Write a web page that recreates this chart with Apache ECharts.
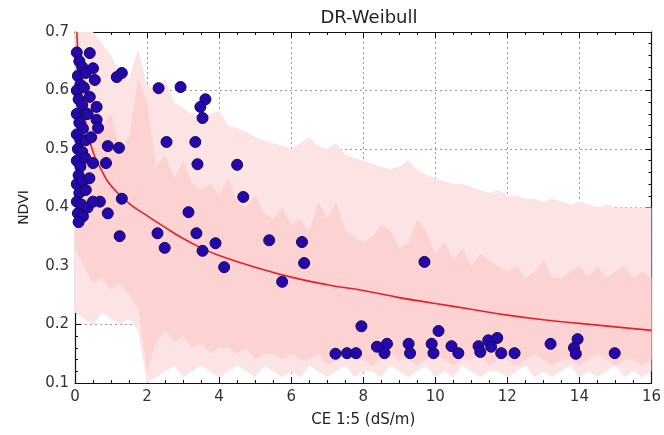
<!DOCTYPE html>
<html>
<head>
<meta charset="utf-8">
<script src="https://cdn.jsdelivr.net/npm/echarts@6/dist/echarts.min.js"></script>
<style>
  html, body { margin: 0; padding: 0; background: #fff; }
  #chart { width: 664px; height: 435px; }
</style>
</head>
<body>
<div id="chart"></div>
<script>
// Observations: salinity (CE 1:5, dS/m) vs NDVI
const obsCE = [
  0.05,0.12,0.20,0.08,0.30,0.15,0.05,0.25,0.10,0.20,0.05,0.30,0.12,0.22,0.05,0.15,0.30,0.08,0.20,0.05,
  0.15,0.28,0.10,0.05,0.20,0.12,0.30,0.05,0.18,0.08,0.22,0.35,0.10,
  0.41,0.50,0.55,0.41,0.60,0.60,0.64,0.45,0.50,0.86,0.91,1.22,1.16,1.30,0.69,0.50,1.30,0.91,1.24,0.40,0.35,
  2.32,2.93,3.62,3.48,3.54,2.54,3.34,3.40,4.50,4.67,3.15,2.29,3.37,2.49,3.54,3.90,4.14,5.39,5.75,6.30,6.36,9.70,
  7.95,10.09,7.23,7.55,7.80,8.38,8.66,8.59,9.26,9.30,9.90,9.95,10.45,10.64,11.20,11.25,11.47,11.72,11.55,11.83,
  12.20,13.20,13.95,13.85,13.90,14.98
];
const obsNDVI = [
  0.665,0.650,0.640,0.625,0.630,0.610,0.600,0.605,0.585,0.575,0.560,0.560,0.545,0.535,0.525,0.515,0.515,0.500,0.495,0.480,
  0.470,0.485,0.455,0.440,0.445,0.425,0.430,0.410,0.405,0.390,0.385,0.400,0.375,
  0.664,0.638,0.618,0.589,0.572,0.550,0.536,0.520,0.476,0.476,0.505,0.502,0.623,0.630,0.410,0.410,0.415,0.390,0.351,0.450,0.560,
  0.604,0.606,0.585,0.572,0.553,0.512,0.512,0.474,0.473,0.418,0.392,0.356,0.356,0.331,0.326,0.339,0.298,0.344,0.273,0.341,0.305,0.307,
  0.197,0.189,0.150,0.151,0.151,0.162,0.167,0.151,0.167,0.151,0.167,0.151,0.163,0.151,0.163,0.153,0.173,0.177,0.162,0.151,
  0.151,0.167,0.175,0.160,0.150,0.151
];

// Fitted dose-response (Weibull) curve
const fitCE   = [0.05,0.1,0.2,0.3,0.5,0.75,1.0,1.5,2.0,2.5,3.0,3.5,4.0,5.0,6.0,7.0,8.0,9.0,10.0,11.0,12.0,13.0,14.0,15.0,16.0];
const fitNDVI = [0.700,0.650,0.585,0.545,0.495,0.462,0.437,0.407,0.386,0.366,0.347,0.331,0.318,0.298,0.281,0.268,0.258,0.246,0.236,0.226,0.216,0.208,0.202,0.196,0.190];

// Prediction bands on a common CE grid
const bandCE = [
  0,0.25,0.5,0.75,1,1.25,1.5,1.75,2,2.25,2.5,2.75,3,3.25,3.5,3.75,4,4.25,4.5,4.75,5,5.25,5.5,5.75,
  6,6.25,6.5,6.75,7,7.25,7.5,7.75,8,8.25,8.5,8.75,9,9.25,9.5,9.75,10,10.25,10.5,10.75,11,11.25,11.5,11.75,
  12,12.25,12.5,12.75,13,13.25,13.5,13.75,14,14.25,14.5,14.75,15,15.25,15.5,15.75,16
];
const outerHi = [
  0.70,0.70,0.70,0.68,0.66,0.63,0.62,0.67,0.61,0.60,0.62,0.58,0.57,0.56,0.555,0.56,0.565,0.54,0.535,0.53,0.52,0.515,0.51,0.505,
  0.50,0.51,0.52,0.505,0.50,0.51,0.49,0.485,0.48,0.475,0.47,0.465,0.47,0.48,0.465,0.455,0.45,0.445,0.44,0.44,0.435,0.43,0.425,0.43,
  0.42,0.42,0.415,0.415,0.41,0.415,0.41,0.405,0.41,0.405,0.40,0.405,0.40,0.40,0.40,0.40,0.40
];
const outerLo = [
  0.22,0.21,0.20,0.22,0.21,0.20,0.21,0.19,0.10,0.11,0.12,0.13,0.11,0.12,0.13,0.12,0.11,0.12,0.13,0.12,0.11,0.13,0.12,0.11,
  0.12,0.11,0.13,0.12,0.11,0.12,0.13,0.11,0.12,0.12,0.11,0.13,0.12,0.11,0.12,0.13,0.11,0.12,0.11,0.13,0.12,0.11,0.12,0.12,
  0.11,0.12,0.13,0.11,0.12,0.11,0.12,0.13,0.11,0.12,0.11,0.12,0.13,0.11,0.12,0.11,0.12
];
const innerHi = [
  0.70,0.64,0.58,0.54,0.56,0.50,0.52,0.62,0.58,0.47,0.49,0.45,0.48,0.44,0.43,0.44,0.42,0.45,0.41,0.40,0.42,0.39,0.38,0.40,
  0.37,0.38,0.36,0.41,0.38,0.41,0.36,0.35,0.34,0.35,0.37,0.36,0.33,0.34,0.38,0.36,0.32,0.34,0.31,0.33,0.30,0.32,0.31,0.30,
  0.29,0.30,0.28,0.29,0.31,0.28,0.28,0.29,0.30,0.28,0.30,0.28,0.29,0.30,0.28,0.29,0.28
];
const innerLo = [
  0.33,0.30,0.27,0.28,0.26,0.27,0.25,0.23,0.12,0.17,0.19,0.17,0.18,0.16,0.17,0.15,0.16,0.16,0.15,0.16,0.14,0.15,0.15,0.14,
  0.15,0.14,0.14,0.15,0.13,0.14,0.15,0.14,0.14,0.13,0.14,0.15,0.14,0.14,0.13,0.14,0.15,0.14,0.13,0.14,0.14,0.15,0.13,0.14,
  0.14,0.13,0.14,0.15,0.14,0.13,0.14,0.14,0.13,0.14,0.15,0.14,0.13,0.14,0.14,0.13,0.14
];

// Tick values
const xTicks = [0, 2, 4, 6, 8, 10, 12, 14, 16];
const yTicks = [0.1, 0.2, 0.3, 0.4, 0.5, 0.6, 0.7];

const FONT = 'DejaVu Sans';

function bandSeries(name, hi, lo, color) {
  const pts = [];
  for (let i = 0; i < bandCE.length; i++) pts.push([bandCE[i], hi[i]]);
  for (let i = bandCE.length - 1; i >= 0; i--) pts.push([bandCE[i], lo[i]]);
  return {
    name: name,
    type: 'custom',
    silent: true,
    clip: true,
    data: [0],
    renderItem: function (params, api) {
      const poly = pts.map(p => api.coord(p));
      return {
        type: 'polygon',
        shape: { points: poly },
        style: { fill: color, stroke: null }
      };
    },
    z: 1
  };
}

const chart = echarts.init(document.getElementById('chart'), null, { renderer: 'canvas' });

const gridLine = { show: true, lineStyle: { color: '#9a9a9a', type: [2, 3], width: 1 } };

function xAxisBase(pos, showLabel) {
  return {
    type: 'value', position: pos, min: xTicks[0], max: xTicks[xTicks.length - 1], interval: 2,
    axisLine: { show: true, onZero: false, lineStyle: { color: '#111', width: 1.2 } },
    axisTick: { show: true, inside: true, length: 6, lineStyle: { color: '#111' } },
    minorTick: { show: true, splitNumber: 4, length: 3, lineStyle: { color: '#111' } },
    axisLabel: { show: showLabel, color: '#333', fontFamily: FONT, fontSize: 15, margin: 7 },
    splitLine: pos === 'bottom' ? gridLine : { show: false }
  };
}
function yAxisBase(pos, showLabel) {
  return {
    type: 'value', position: pos, min: yTicks[0], max: yTicks[yTicks.length - 1], interval: 0.1,
    axisLine: { show: true, onZero: false, lineStyle: { color: '#111', width: 1.2 } },
    axisTick: { show: true, inside: true, length: 6, lineStyle: { color: '#111' } },
    minorTick: { show: true, splitNumber: 5, length: 3, lineStyle: { color: '#111' } },
    axisLabel: { show: showLabel, color: '#333', fontFamily: FONT, fontSize: 15, margin: 6,
      formatter: v => v.toFixed(1) },
    splitLine: pos === 'left' ? gridLine : { show: false }
  };
}

const xBottom = Object.assign(xAxisBase('bottom', true), {
  name: 'CE 1:5 (dS/m)', nameLocation: 'middle', nameGap: 30,
  nameTextStyle: { color: '#222', fontFamily: FONT, fontSize: 15 }
});
const yLeft = Object.assign(yAxisBase('left', true), {
  name: 'NDVI', nameLocation: 'middle', nameGap: 44, nameRotate: 90,
  nameTextStyle: { color: '#222', fontFamily: FONT, fontSize: 14 }
});

chart.setOption({
  animation: false,
  backgroundColor: '#ffffff',
  title: {
    text: 'DR-Weibull', left: 364, top: 4, textAlign: 'center',
    textStyle: { color: '#222', fontFamily: FONT, fontSize: 18, fontWeight: 'normal' }
  },
  grid: { left: 75, right: 10, top: 32, bottom: 52 },
  xAxis: [xBottom, xAxisBase('top', false)],
  yAxis: [yLeft, yAxisBase('right', false)],
  series: [
    bandSeries('outer band', outerHi, outerLo, '#fde4e4'),
    bandSeries('inner band', innerHi, innerLo, '#fcd2d2'),
    {
      name: 'Weibull fit',
      type: 'line',
      data: fitCE.map((x, i) => [x, fitNDVI[i]]),
      smooth: true,
      showSymbol: false,
      clip: true,
      lineStyle: { color: '#e3222a', width: 1.6 },
      z: 3
    },
    {
      name: 'observations',
      type: 'scatter',
      data: obsCE.map((x, i) => [x, obsNDVI[i]]),
      symbolSize: 11,
      clip: false,
      itemStyle: { color: '#2408ac', borderColor: '#12065e', borderWidth: 1, opacity: 1 },
      z: 4
    }
  ]
});
</script>
</body>
</html>
